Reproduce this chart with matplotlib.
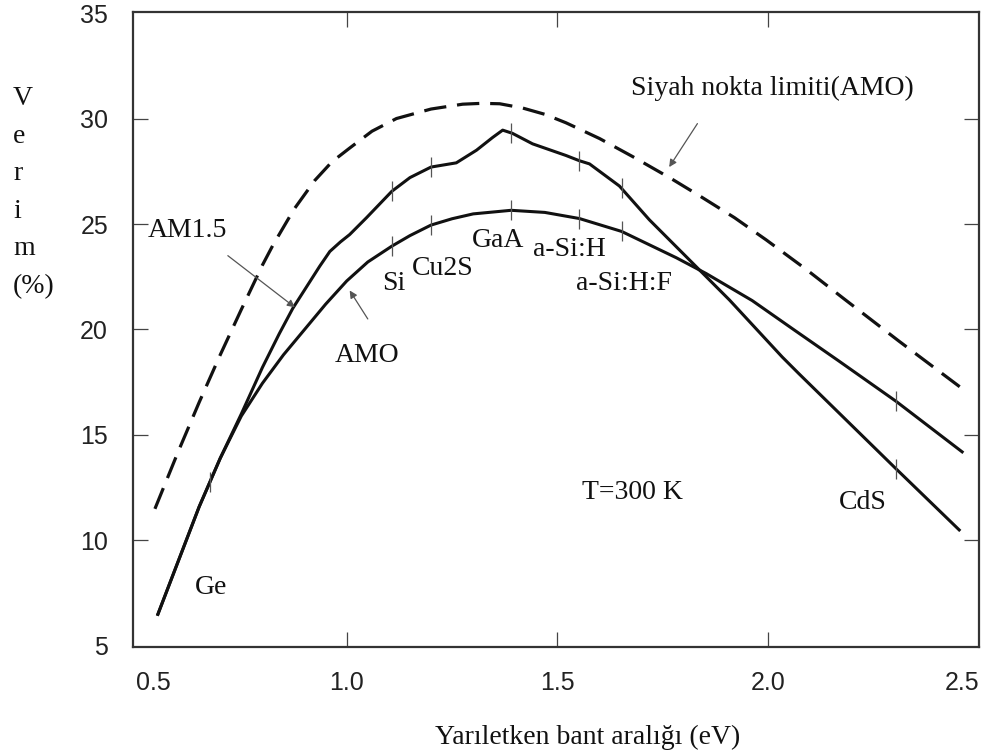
import numpy as np
import matplotlib
matplotlib.use('Agg')
import matplotlib.pyplot as plt

# ===== DATA (band gap in eV, efficiency in %)

# black body limit (AMO), dashed
limit_x = [0.545, 0.60, 0.65, 0.70, 0.75, 0.80, 0.825, 0.875, 0.924, 0.965,
           1.007, 1.06, 1.118, 1.20, 1.275, 1.32, 1.363, 1.417, 1.47, 1.52,
           1.60, 1.678, 1.77, 1.836, 1.92, 1.995, 2.09, 2.18, 2.31, 2.46]
limit_y = [11.5, 14.2, 16.55, 18.8, 20.95, 23.05, 24.0, 25.7, 27.06, 27.95,
           28.6, 29.4, 30.0, 30.45, 30.68, 30.72, 30.7, 30.5, 30.2, 29.8,
           29.05, 28.2, 27.15, 26.35, 25.3, 24.25, 22.85, 21.45, 19.45, 17.2]

# AM1.5 curve
am15_x = [0.552, 0.60, 0.65, 0.70, 0.75, 0.80, 0.84, 0.872, 0.912, 0.936,
          0.96, 0.985, 1.007, 1.047, 1.107, 1.15, 1.20, 1.26, 1.308, 1.346,
          1.37, 1.393, 1.441, 1.52, 1.552, 1.576, 1.647, 1.718, 1.813, 1.853,
          1.908, 2.033, 2.073, 2.303, 2.453]
am15_y = [6.5, 9.0, 11.6, 13.9, 16.0, 18.2, 19.8, 21.0, 22.25, 23.0,
          23.7, 24.15, 24.5, 25.3, 26.55, 27.2, 27.7, 27.9, 28.5, 29.1,
          29.45, 29.3, 28.8, 28.25, 28.0, 27.85, 26.8, 25.2, 23.3, 22.5,
          21.4, 18.7, 17.9, 13.4, 10.5]

# AMO curve
amo_x = [0.552, 0.60, 0.65, 0.70, 0.75, 0.80, 0.85, 0.90, 0.95, 1.00,
         1.05, 1.107, 1.15, 1.20, 1.25, 1.30, 1.39, 1.47, 1.552, 1.652,
         1.782, 1.853, 1.962, 2.06, 2.168, 2.303, 2.46]
amo_y = [6.5, 9.0, 11.6, 13.9, 15.9, 17.45, 18.8, 20.0, 21.2, 22.3,
         23.2, 23.95, 24.45, 24.95, 25.25, 25.48, 25.65, 25.55, 25.26, 24.65,
         23.4, 22.65, 21.37, 20.0, 18.5, 16.6, 14.2]

# materials marked on the curves
mat_gaps = [0.675, 1.107, 1.20, 1.39, 1.552, 1.652, 2.303]

labels = [
    ('Siyah nokta limiti(AMO)', 1.675, 31.45),
    ('AM1.5', 0.528, 24.7),
    ('AMO', 0.972, 18.77),
    ('Si', 1.083, 22.2),
    ('Cu2S', 1.154, 22.9),
    ('GaA', 1.296, 24.2),
    ('a-Si:H', 1.441, 23.8),
    ('a-Si:H:F', 1.545, 22.2),
    ('T=300 K', 1.559, 12.27),
    ('CdS', 2.168, 11.8),
    ('Ge', 0.64, 7.77),
]

# (tail, head) of the pointer arrows
arrows = [
    ((0.718, 23.5), (0.877, 21.05)),
    ((1.05, 20.5), (1.007, 21.85)),
    ((1.832, 29.76), (1.765, 27.7)),
]

xticks = [0.5, 1.0, 1.5, 2.0, 2.5]
yticks = [5, 10, 15, 20, 25, 30, 35]

# ===== DISPLAY

serif = 'Liberation Serif'
sans = 'Liberation Sans'

fig = plt.figure(figsize=(9.9, 7.55), dpi=100)
ax = fig.add_axes([133 / 990, 1 - 647 / 755, 846 / 990, 635 / 755])

ax.plot(limit_x, limit_y, color='#111', lw=2.3, dashes=(7, 3.4))
ax.plot(am15_x, am15_y, color='#111', lw=2.2)
ax.plot(amo_x, amo_y, color='#111', lw=2.2)

gaps = np.array(mat_gaps)
ax.plot(gaps, np.interp(gaps, am15_x, am15_y), ls='none', marker='|',
        ms=14, mew=0.9, color='#555')
ax.plot(gaps[1:], np.interp(gaps[1:], amo_x, amo_y), ls='none', marker='|',
        ms=14, mew=0.9, color='#555')

for txt, x, y in labels:
    ax.text(x, y, txt, ha='left', va='center', fontsize=20, family=serif,
            color='#111')

for tail, head in arrows:
    ax.annotate('', xy=head, xytext=tail,
                arrowprops=dict(arrowstyle='-|>', color='#555', lw=0.9,
                                mutation_scale=11, shrinkA=0, shrinkB=0))

ax.set_xlim(0.493, 2.5)
ax.set_ylim(4.95, 35.05)
ax.set_xticks(xticks, labels=['%.1f' % v for v in xticks])
ax.set_yticks(yticks, labels=[str(v) for v in yticks])
ax.tick_params(direction='in', length=11, width=0.9, color='#444',
               top=True, right=True, labelsize=18, labelcolor='#222')
ax.tick_params(axis='x', pad=17)
ax.tick_params(axis='y', pad=18)
for lab in ax.get_xticklabels() + ax.get_yticklabels():
    lab.set_family(sans)
xl = ax.get_xticklabels()
xl[0].set_ha('left')
xl[-1].set_ha('right')

# no tick marks on the frame corners
for t in [ax.xaxis.get_major_ticks()[i] for i in (0, -1)] + \
         [ax.yaxis.get_major_ticks()[i] for i in (0, -1)]:
    t.tick1line.set_visible(False)
    t.tick2line.set_visible(False)

for sp in ax.spines.values():
    sp.set_linewidth(1.6)
    sp.set_color('#333')

fig.text(13 / 990, 1 - 86 / 755, 'V\ne\nr\ni\nm\n(%)', ha='left', va='top',
         fontsize=20, family=serif, linespacing=1.66, color='#111')
fig.text(588 / 990, 1 - 737 / 755, 'Yarıletken bant aralığı (eV)',
         ha='center', va='center', fontsize=20, family=serif, color='#111')

plt.savefig('out.png', dpi=100)
